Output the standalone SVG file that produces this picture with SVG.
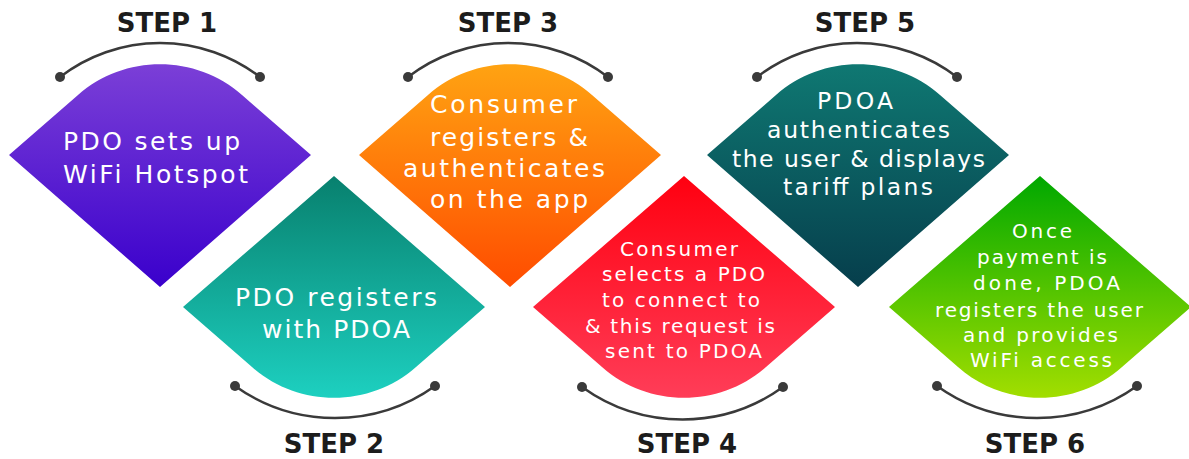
<svg xmlns="http://www.w3.org/2000/svg" width="1189" height="459" viewBox="0 0 1189 459">
<style>
.step{font-family:"DejaVu Sans","Open Sans",sans-serif;font-weight:bold;font-size:26px;fill:#1c1c1c;text-anchor:middle}
.t{font-family:"DejaVu Sans","Open Sans",sans-serif;fill:#ffffff;text-anchor:middle}
.f23{font-size:25px}
.f22{font-size:23.5px}
.f19{font-size:20px}
.arc{fill:none;stroke:#3a3a3a;stroke-width:2.5}
.dot{fill:#3a3a3a}
</style>
<defs>
<linearGradient id="g1" x1="0" y1="0" x2="0" y2="1"><stop offset="0" stop-color="#7b3fd7"/><stop offset="1" stop-color="#3a00cc"/></linearGradient>
<linearGradient id="g2" x1="0" y1="0" x2="0" y2="1"><stop offset="0" stop-color="#08806e"/><stop offset="1" stop-color="#1dd0c0"/></linearGradient>
<linearGradient id="g3" x1="0" y1="0" x2="0" y2="1"><stop offset="0" stop-color="#ffa312"/><stop offset="1" stop-color="#ff4c00"/></linearGradient>
<linearGradient id="g4" x1="0" y1="0" x2="0" y2="1"><stop offset="0" stop-color="#ff0010"/><stop offset="1" stop-color="#ff3d58"/></linearGradient>
<linearGradient id="g5" x1="0" y1="0" x2="0" y2="1"><stop offset="0" stop-color="#0f7872"/><stop offset="1" stop-color="#063e4c"/></linearGradient>
<linearGradient id="g6" x1="0" y1="0" x2="0" y2="1"><stop offset="0" stop-color="#00a800"/><stop offset="1" stop-color="#a2de00"/></linearGradient>
</defs>
<rect width="1189" height="459" fill="#ffffff"/>

<g id="step1">
<path transform="translate(160,155)" d="M -151 0 L -82 -60 C -36 -101 36 -101 82 -60 L 151 0 L 0 132 Z" fill="url(#g1)"/>
<text class="t f23" x="151.5" y="150" textLength="177" lengthAdjust="spacing">PDO sets up</text>
<text class="t f23" x="155.5" y="183" textLength="185" lengthAdjust="spacing">WiFi Hotspot</text>
<text class="step" x="167" y="32">STEP 1</text>
</g>

<g id="step2">
<path transform="translate(334,307)" d="M -151 0 L 0 -131 L 151 0 L 82 60 C 36 101 -36 101 -82 60 Z" fill="url(#g2)"/>
<text class="t f23" x="336" y="306" textLength="202" lengthAdjust="spacing">PDO registers</text>
<text class="t f23" x="336" y="338" textLength="148" lengthAdjust="spacing">with PDOA</text>
<text class="step" x="334" y="453">STEP 2</text>
</g>

<g id="step3">
<path transform="translate(510,155)" d="M -151 0 L -82 -60 C -36 -101 36 -101 82 -60 L 151 0 L 0 132 Z" fill="url(#g3)"/>
<text class="t f23" x="503.5" y="113" textLength="147" lengthAdjust="spacing">Consumer</text>
<text class="t f23" x="509" y="146" textLength="158" lengthAdjust="spacing">registers &amp;</text>
<text class="t f23" x="504" y="177" textLength="202" lengthAdjust="spacing">authenticates</text>
<text class="t f23" x="509" y="208" textLength="158" lengthAdjust="spacing">on the app</text>
<text class="step" x="508" y="32">STEP 3</text>
</g>

<g id="step4">
<path transform="translate(684,307)" d="M -151 0 L 0 -131 L 151 0 L 82 60 C 36 101 -36 101 -82 60 Z" fill="url(#g4)"/>
<text class="t f19" x="679" y="256" textLength="118" lengthAdjust="spacing">Consumer</text>
<text class="t f19" x="683.5" y="281" textLength="163" lengthAdjust="spacing">selects a PDO</text>
<text class="t f19" x="681" y="307" textLength="158" lengthAdjust="spacing">to connect to</text>
<text class="t f19" x="680" y="333" textLength="190" lengthAdjust="spacing">&amp; this request is</text>
<text class="t f19" x="683.5" y="358" textLength="157" lengthAdjust="spacing">sent to PDOA</text>
<text class="step" x="687" y="453">STEP 4</text>
</g>

<g id="step5">
<path transform="translate(858,155)" d="M -151 0 L -82 -60 C -36 -101 36 -101 82 -60 L 151 0 L 0 132 Z" fill="url(#g5)"/>
<text class="t f22" x="855" y="109" textLength="76" lengthAdjust="spacing">PDOA</text>
<text class="t f22" x="858.5" y="138" textLength="183" lengthAdjust="spacing">authenticates</text>
<text class="t f22" x="858.5" y="167" textLength="253" lengthAdjust="spacing">the user &amp; displays</text>
<text class="t f22" x="858" y="195" textLength="150" lengthAdjust="spacing">tariff plans</text>
<text class="step" x="865" y="32">STEP 5</text>
</g>

<g id="step6">
<path transform="translate(1040,307)" d="M -151 0 L 0 -131 L 151 0 L 82 60 C 36 101 -36 101 -82 60 Z" fill="url(#g6)"/>
<text class="t f19" x="1042" y="238" textLength="60" lengthAdjust="spacing">Once</text>
<text class="t f19" x="1042" y="264" textLength="130" lengthAdjust="spacing">payment is</text>
<text class="t f19" x="1046.5" y="290" textLength="147" lengthAdjust="spacing">done, PDOA</text>
<text class="t f19" x="1039" y="317" textLength="208" lengthAdjust="spacing">registers the user</text>
<text class="t f19" x="1040.5" y="342" textLength="155" lengthAdjust="spacing">and provides</text>
<text class="t f19" x="1041" y="367" textLength="142" lengthAdjust="spacing">WiFi access</text>
<text class="step" x="1035" y="453">STEP 6</text>
</g>

<g id="connectors">
<path class="arc" d="M 60 77 A 164 164 0 0 1 260 77"/>
<circle class="dot" cx="60" cy="77" r="5"/><circle class="dot" cx="260" cy="77" r="5"/>
<path class="arc" d="M 408 77 A 164 164 0 0 1 608 77"/>
<circle class="dot" cx="408" cy="77" r="5"/><circle class="dot" cx="608" cy="77" r="5"/>
<path class="arc" d="M 757 77 A 164 164 0 0 1 957 77"/>
<circle class="dot" cx="757" cy="77" r="5"/><circle class="dot" cx="957" cy="77" r="5"/>
<path class="arc" d="M 235 386 A 172 172 0 0 0 435 386"/>
<circle class="dot" cx="235" cy="386" r="5"/><circle class="dot" cx="435" cy="386" r="5"/>
<path class="arc" d="M 582 387 A 172 172 0 0 0 783 387"/>
<circle class="dot" cx="582" cy="387" r="5"/><circle class="dot" cx="783" cy="387" r="5"/>
<path class="arc" d="M 937 386 A 172 172 0 0 0 1137 386"/>
<circle class="dot" cx="937" cy="386" r="5"/><circle class="dot" cx="1137" cy="386" r="5"/>
</g>
</svg>
